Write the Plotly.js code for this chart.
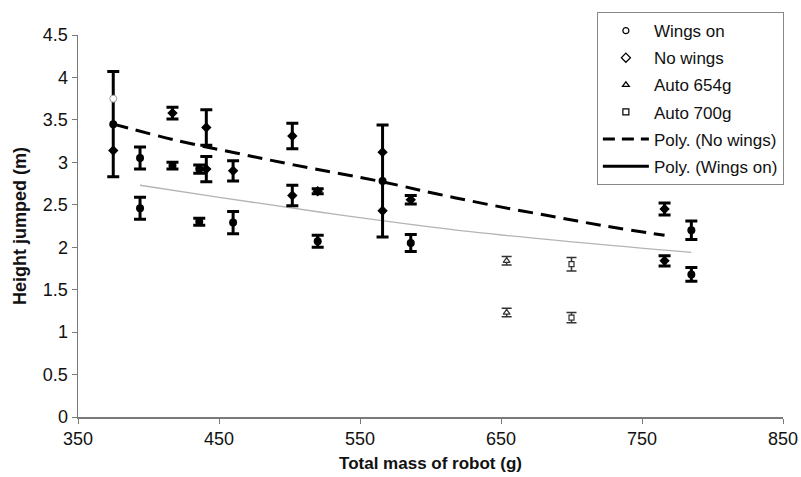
<!DOCTYPE html>
<html>
<head>
<meta charset="utf-8">
<script src="https://cdn.plot.ly/plotly-3.0.1.min.js"></script>
<style>html,body{margin:0;padding:0;background:#fff;}#chart{width:801px;height:477px;}</style>
</head>
<body>
<div id="chart"></div>
<script>
// Wings on (circles)
const wingsX   = [375, 394, 394, 417, 436, 436, 460, 520, 566, 586, 785, 785];
const wingsY   = [3.45, 3.05, 2.46, 2.96, 2.92, 2.30, 2.29, 2.07, 2.78, 2.05, 2.20, 1.68];
const wingsErr = [0.62, 0.13, 0.13, 0.04, 0.05, 0.04, 0.13, 0.07, 0.66, 0.10, 0.11, 0.08];
// No wings (diamonds)
const noWingsX   = [417, 441, 441, 460, 502, 502, 520, 586, 766, 766];
const noWingsY   = [3.58, 3.41, 2.92, 2.90, 3.31, 2.61, 2.66, 2.56, 2.45, 1.84];
const noWingsErr = [0.07, 0.21, 0.15, 0.12, 0.15, 0.12, 0.03, 0.05, 0.07, 0.06];
// individual trials without error bars
const trialDiamondX = [375, 566, 566];
const trialDiamondY = [3.14, 3.12, 2.43];
const trialCircleX = [375];
const trialCircleY = [3.75];
// Auto runs
const auto654X = [654, 654];
const auto654Y = [1.84, 1.23];
const auto654Err = [0.05, 0.05];
const auto700X = [700, 700];
const auto700Y = [1.80, 1.17];
const auto700Err = [0.08, 0.06];
// Polynomial trend lines
const noWingsFitX = [375, 422, 462, 503, 566, 604, 642, 684, 724, 766];
const noWingsFitY = [3.45, 3.25, 3.11, 2.97, 2.77, 2.63, 2.50, 2.37, 2.25, 2.14];
const wingsFitX = [394, 449, 532, 630, 742, 785];
const wingsFitY = [2.73, 2.59, 2.39, 2.18, 2.00, 1.94];

const xTicks = [350, 450, 550, 650, 750, 850];
const yTicks = [0, 0.5, 1, 1.5, 2, 2.5, 3, 3.5, 4, 4.5];
const legendNames = ['Wings on', 'No wings', 'Auto 654g', 'Auto 700g', 'Poly. (No wings)', 'Poly. (Wings on)'];

const heavyErr = v => ({type: 'data', array: v, visible: true, color: '#000', thickness: 3, width: 6});
const lightErr = v => ({type: 'data', array: v, visible: true, color: '#333', thickness: 1.5, width: 5});

const traces = [
  {x: noWingsFitX, y: noWingsFitY, mode: 'lines', line: {color: '#000', width: 3, dash: '15px,8px', shape: 'spline'}, showlegend: false, hoverinfo: 'skip'},
  {x: wingsFitX, y: wingsFitY, mode: 'lines', line: {color: '#b4b4b4', width: 1.3, shape: 'spline'}, showlegend: false, hoverinfo: 'skip'},
  {x: wingsX, y: wingsY, mode: 'markers', marker: {symbol: 'circle', size: 8, color: '#000'}, error_y: heavyErr(wingsErr), showlegend: false},
  {x: noWingsX, y: noWingsY, mode: 'markers', marker: {symbol: 'diamond', size: 8, color: '#000'}, error_y: heavyErr(noWingsErr), showlegend: false},
  {x: trialDiamondX, y: trialDiamondY, mode: 'markers', marker: {symbol: 'diamond', size: 8, color: '#000'}, showlegend: false},
  {x: trialCircleX, y: trialCircleY, mode: 'markers', marker: {symbol: 'circle', size: 7, color: '#fff', line: {color: '#999', width: 1}}, showlegend: false},
  {x: auto654X, y: auto654Y, mode: 'markers', marker: {symbol: 'triangle-up', size: 6, color: '#fff', line: {color: '#333', width: 1.2}}, error_y: lightErr(auto654Err), showlegend: false},
  {x: auto700X, y: auto700Y, mode: 'markers', marker: {symbol: 'square', size: 5, color: '#fff', line: {color: '#333', width: 1.2}}, error_y: lightErr(auto700Err), showlegend: false},
  // legend entries
  {x: [null], y: [null], name: legendNames[0], legendgroup: 'a', mode: 'markers', marker: {symbol: 'circle-open', size: 6, color: '#000', line: {width: 1.2}}},
  {x: [null], y: [null], name: legendNames[1], legendgroup: 'b', mode: 'markers', marker: {symbol: 'diamond-open', size: 7, color: '#000', line: {width: 1.2}}},
  {x: [null], y: [null], name: legendNames[2], legendgroup: 'c', mode: 'markers', marker: {symbol: 'triangle-up-open', size: 6, color: '#000', line: {width: 1.2}}},
  {x: [null], y: [null], name: legendNames[3], legendgroup: 'd', mode: 'markers', marker: {symbol: 'square-open', size: 6, color: '#000', line: {width: 1.2}}},
  {x: [null], y: [null], name: legendNames[4], legendgroup: 'e', mode: 'lines', line: {color: '#000', width: 3, dash: '12px,7px'}},
  {x: [null], y: [null], name: legendNames[5], legendgroup: 'f', mode: 'lines', line: {color: '#000', width: 3}}
];

const layout = {
  width: 801, height: 477,
  margin: {l: 78, r: 18, t: 33, b: 60},
  paper_bgcolor: '#fff', plot_bgcolor: '#fff',
  font: {family: 'Liberation Sans, Arial, sans-serif', color: '#111', size: 18},
  xaxis: {
    range: [350, 850], tickvals: xTicks, ticktext: xTicks.map(String),
    showgrid: false, zeroline: false, showline: true, linecolor: '#7a7a7a', linewidth: 1.5,
    ticks: 'outside', ticklen: 5, tickcolor: '#7a7a7a', tickfont: {size: 18},
    title: {text: '<b>Total mass of robot (g)</b>', font: {size: 17}, standoff: 9}
  },
  yaxis: {
    range: [0, 4.5], tickvals: yTicks, ticktext: yTicks.map(String),
    showgrid: false, zeroline: false, showline: true, linecolor: '#7a7a7a', linewidth: 1.5,
    ticks: 'outside', ticklen: 5, tickcolor: '#7a7a7a', tickfont: {size: 18},
    title: {text: '<b>Height jumped (m)</b>', font: {size: 18}, standoff: 11}
  },
  legend: {
    x: 0.736, y: 1.06, xanchor: 'left', yanchor: 'top',
    bgcolor: '#fff', bordercolor: '#888', borderwidth: 1,
    font: {size: 17, color: '#111'}, traceorder: 'grouped', tracegroupgap: 2, itemwidth: 46
  },
  showlegend: true
};

Plotly.newPlot('chart', traces, layout, {displayModeBar: false, staticPlot: true});
</script>
</body>
</html>
